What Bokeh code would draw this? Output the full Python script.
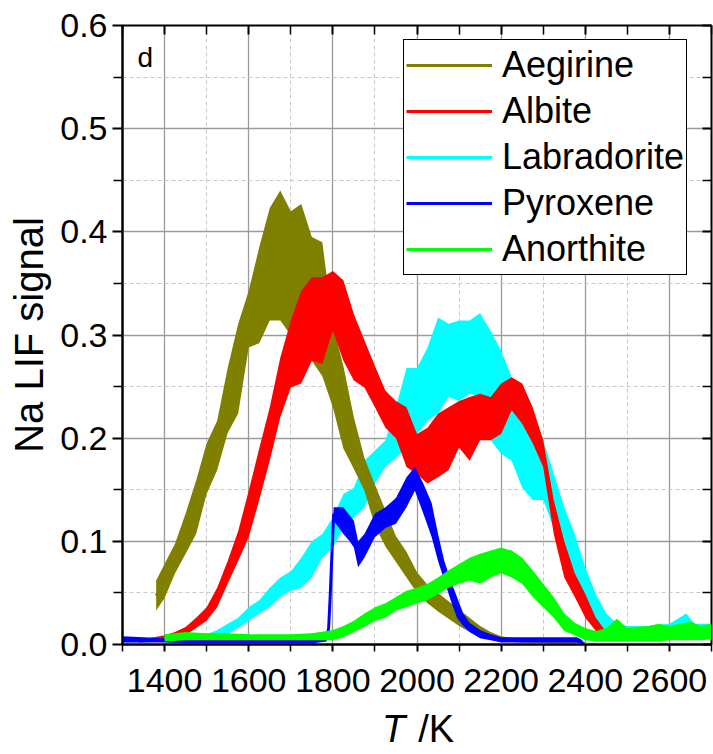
import numpy as np
from bokeh.plotting import figure
from bokeh.layouts import column
from bokeh.core.properties import value
from bokeh.models import (Range1d, LinearAxis, FixedTicker, PrintfTickFormatter,
                          Legend, LegendItem, Label, CustomJSTickFormatter)
from bokeh.embed import file_html
from bokeh.resources import INLINE

# ---------------- data (noisy band = lower/upper envelope) -------------
aeg_T  = [1380, 1400, 1425, 1450, 1475, 1500, 1525, 1550, 1575, 1600, 1625, 1650, 1675, 1700, 1725,
          1750, 1775, 1800, 1825, 1850, 1875, 1900, 1925, 1950, 1975, 2000, 2025, 2050, 2075, 2100,
          2125, 2150, 2175, 2200, 2250, 2300, 2350, 2400]
aeg_lo = [0.033, 0.045, 0.069, 0.088, 0.107, 0.146, 0.169, 0.205, 0.224, 0.288, 0.292, 0.314, 0.314,
          0.300, 0.275, 0.275, 0.260, 0.230, 0.190, 0.170, 0.149, 0.115, 0.095, 0.080, 0.065, 0.050,
          0.040, 0.032, 0.025, 0.018, 0.012, 0.008, 0.005, 0.003, 0.002, 0.002, 0.001, 0.000]
aeg_hi = [0.062, 0.078, 0.098, 0.127, 0.159, 0.195, 0.217, 0.268, 0.311, 0.343, 0.385, 0.423, 0.440,
          0.420, 0.427, 0.395, 0.390, 0.310, 0.270, 0.220, 0.181, 0.155, 0.130, 0.105, 0.090, 0.070,
          0.058, 0.050, 0.042, 0.034, 0.026, 0.018, 0.012, 0.008, 0.005, 0.004, 0.003, 0.002]

alb_T  = [1340, 1375, 1400, 1425, 1450, 1475, 1500, 1525, 1550, 1575, 1600, 1625, 1650, 1675, 1700,
          1725, 1750, 1775, 1800, 1825, 1850, 1875, 1900, 1925, 1950, 1975, 2000, 2025, 2050, 2075,
          2100, 2125, 2150, 2175, 2200, 2225, 2250, 2275, 2300, 2325, 2350, 2375, 2400, 2425, 2450]
alb_lo = [0.002, 0.003, 0.004, 0.007, 0.009, 0.016, 0.023, 0.036, 0.059, 0.081, 0.104, 0.140, 0.178,
          0.220, 0.249, 0.253, 0.275, 0.272, 0.304, 0.275, 0.256, 0.249, 0.230, 0.210, 0.200, 0.172,
          0.165, 0.156, 0.162, 0.169, 0.191, 0.178, 0.198, 0.198, 0.204, 0.227, 0.214, 0.195, 0.172,
          0.107, 0.065, 0.046, 0.026, 0.013, 0.003]
alb_hi = [0.005, 0.007, 0.009, 0.012, 0.017, 0.026, 0.036, 0.055, 0.081, 0.110, 0.149, 0.190, 0.230,
          0.278, 0.314, 0.343, 0.356, 0.356, 0.362, 0.353, 0.320, 0.295, 0.270, 0.246, 0.236, 0.230,
          0.204, 0.210, 0.224, 0.230, 0.236, 0.240, 0.243, 0.240, 0.253, 0.259, 0.253, 0.230, 0.198,
          0.140, 0.100, 0.069, 0.049, 0.026, 0.012]

lab_T  = [1300, 1350, 1400, 1450, 1500, 1525, 1550, 1575, 1600, 1625, 1650, 1675, 1700, 1725, 1750,
          1775, 1800, 1825, 1850, 1875, 1900, 1925, 1950, 1975, 2000, 2025, 2050, 2075, 2100, 2125,
          2150, 2175, 2200, 2225, 2250, 2275, 2300, 2325, 2350, 2375, 2400, 2425, 2450, 2475, 2500,
          2550, 2600, 2640, 2660, 2700]
lab_lo = [0.002, 0.002, 0.003, 0.004, 0.005, 0.007, 0.010, 0.016, 0.023, 0.030, 0.036, 0.046, 0.052,
          0.055, 0.065, 0.084, 0.094, 0.113, 0.123, 0.133, 0.156, 0.172, 0.181, 0.191, 0.204, 0.217,
          0.224, 0.240, 0.236, 0.243, 0.240, 0.198, 0.185, 0.178, 0.152, 0.140, 0.140, 0.113, 0.094,
          0.069, 0.043, 0.023, 0.011, 0.006, 0.005, 0.005, 0.005, 0.006, 0.005, 0.005]
lab_hi = [0.006, 0.006, 0.007, 0.010, 0.010, 0.014, 0.020, 0.026, 0.036, 0.043, 0.055, 0.065, 0.071,
          0.084, 0.100, 0.107, 0.123, 0.146, 0.152, 0.178, 0.188, 0.198, 0.230, 0.268, 0.268, 0.288,
          0.317, 0.311, 0.314, 0.314, 0.321, 0.304, 0.285, 0.259, 0.243, 0.227, 0.198, 0.166, 0.133,
          0.107, 0.075, 0.049, 0.030, 0.020, 0.018, 0.018, 0.020, 0.030, 0.020, 0.020]

pyr_T  = [1300, 1350, 1400, 1450, 1500, 1550, 1600, 1650, 1700, 1750, 1785, 1790, 1794, 1798, 1802,
          1825, 1840, 1850, 1860, 1875, 1900, 1925, 1950, 1975, 1995, 2015, 2035, 2050, 2065, 2080,
          2095, 2110, 2125, 2150, 2175, 2200, 2250, 2300, 2350, 2380, 2390, 2395]
pyr_lo = [0.002, 0.002, 0.002, 0.001, 0.001, 0.001, 0.001, 0.001, 0.001, 0.001, 0.003, 0.012, 0.045,
          0.085, 0.120, 0.107, 0.100, 0.094, 0.075, 0.084, 0.104, 0.113, 0.117, 0.133, 0.149, 0.127,
          0.104, 0.081, 0.062, 0.043, 0.026, 0.018, 0.012, 0.006, 0.004, 0.002, 0.002, 0.002, 0.002,
          0.002, 0.001, 0.000]
pyr_hi = [0.008, 0.007, 0.006, 0.005, 0.005, 0.005, 0.005, 0.005, 0.005, 0.005, 0.008, 0.020, 0.055,
          0.095, 0.133, 0.133, 0.125, 0.120, 0.100, 0.107, 0.127, 0.133, 0.142, 0.162, 0.172, 0.156,
          0.137, 0.107, 0.081, 0.062, 0.046, 0.030, 0.021, 0.014, 0.010, 0.007, 0.007, 0.007, 0.007,
          0.007, 0.005, 0.001]

ano_T  = [1400, 1450, 1500, 1550, 1600, 1650, 1700, 1750, 1800, 1825, 1850, 1875, 1900, 1925, 1950,
          1975, 2000, 2025, 2050, 2075, 2100, 2125, 2150, 2175, 2200, 2225, 2250, 2275, 2300, 2325,
          2350, 2375, 2400, 2425, 2450, 2475, 2500, 2525, 2550, 2575, 2600, 2625, 2650, 2675, 2700]
ano_lo = [0.003, 0.004, 0.004, 0.004, 0.004, 0.004, 0.004, 0.004, 0.004, 0.007, 0.012, 0.017, 0.023,
          0.026, 0.033, 0.036, 0.040, 0.043, 0.049, 0.055, 0.059, 0.062, 0.059, 0.065, 0.069, 0.065,
          0.059, 0.046, 0.036, 0.026, 0.013, 0.009, 0.004, 0.003, 0.003, 0.003, 0.003, 0.003, 0.003,
          0.003, 0.004, 0.004, 0.004, 0.004, 0.005]
ano_hi = [0.010, 0.012, 0.011, 0.011, 0.010, 0.010, 0.010, 0.011, 0.014, 0.018, 0.023, 0.030, 0.036,
          0.040, 0.046, 0.052, 0.055, 0.059, 0.065, 0.072, 0.078, 0.084, 0.088, 0.091, 0.094, 0.091,
          0.084, 0.072, 0.059, 0.046, 0.030, 0.021, 0.016, 0.013, 0.016, 0.025, 0.016, 0.017, 0.018,
          0.020, 0.018, 0.020, 0.022, 0.018, 0.020]

series_names = ["Aegirine", "Albite", "Labradorite", "Pyroxene", "Anorthite"]
series_colors = ["#808000", "#FF0000", "#00FFFF", "#0000FF", "#00FF00"]
series_data = [(aeg_T, aeg_lo, aeg_hi), (alb_T, alb_lo, alb_hi), (lab_T, lab_lo, lab_hi),
               (pyr_T, pyr_lo, pyr_hi), (ano_T, ano_lo, ano_hi)]

x_major_ticks = [1400, 1600, 1800, 2000, 2200, 2400, 2600]
x_minor_ticks = [1300, 1500, 1700, 1900, 2100, 2300, 2500, 2700]
y_major_ticks = [0.0, 0.1, 0.2, 0.3, 0.4, 0.5, 0.6]
y_minor_ticks = [0.05, 0.15, 0.25, 0.35, 0.45, 0.55]

x_label_parts = ["T", "/K"]

FONT = "Liberation Sans"
X0, X1 = 1300, 2700
P_H = 707
Q_H = 754 - P_H

p = figure(width=713, height=P_H, x_range=Range1d(X0, X1), y_range=Range1d(0, 0.6),
           output_backend="svg", toolbar_location=None,
           min_border_left=122, min_border_right=2, min_border_top=25,
           min_border_bottom=P_H - 644)
p.background_fill_color = "white"
p.border_fill_color = "white"
p.outline_line_color = "black"
p.outline_line_width = 2

xt = FixedTicker(ticks=x_major_ticks, minor_ticks=x_minor_ticks)
yt = FixedTicker(ticks=y_major_ticks, minor_ticks=y_minor_ticks)
p.xaxis.ticker = xt
p.yaxis.ticker = yt
p.yaxis.formatter = PrintfTickFormatter(format="%.1f")

for g in (p.xgrid, p.ygrid):
    g.grid_line_color = "#9a9a9a"
    g.grid_line_width = 1.3
    g.minor_grid_line_color = "#c8c8c8"
    g.minor_grid_line_dash = "4 3"
    g.minor_grid_line_width = 1
p.xgrid.ticker = xt
p.ygrid.ticker = yt

for ax in (p.xaxis, p.yaxis):
    ax.axis_line_color = "black"
    ax.axis_line_width = 2
    ax.major_tick_line_color = "black"
    ax.minor_tick_line_color = "black"
    ax.major_tick_line_width = 2
    ax.minor_tick_line_width = 1.5
    ax.major_tick_in = 0
    ax.minor_tick_in = 0
    ax.major_label_text_font = FONT
    ax.major_label_text_font_size = "34px"
    ax.major_label_text_color = "black"

p.xaxis.major_tick_out = 7
p.xaxis.minor_tick_out = 7
p.xaxis.major_label_standoff = 17
p.yaxis.major_tick_out = 10
p.yaxis.minor_tick_out = 9
p.yaxis.major_label_standoff = 5
p.yaxis.axis_label = "Na LIF signal"
p.yaxis.axis_label_text_font = FONT
p.yaxis.axis_label_text_font_size = "40px"
p.yaxis.axis_label_text_font_style = "normal"
p.yaxis.axis_label_text_color = "black"
p.yaxis.axis_label_standoff = 6

blank = CustomJSTickFormatter(code="return ''")
top_ax = LinearAxis(ticker=xt, formatter=blank, major_label_text_font_size="0px",
                    major_label_standoff=0, major_tick_in=9, major_tick_out=0,
                    minor_tick_in=9, minor_tick_out=0, axis_line_color="black",
                    major_tick_line_width=2, minor_tick_line_width=1.5)
right_ax = LinearAxis(ticker=yt, formatter=blank, major_label_text_font_size="0px",
                      major_label_standoff=0, major_tick_in=9, major_tick_out=0,
                      minor_tick_in=9, minor_tick_out=0, axis_line_color="black",
                      major_tick_line_width=2, minor_tick_line_width=1.5)
p.add_layout(top_ax, "above")
p.add_layout(right_ax, "right")

# drawing order: cyan, olive, red, blue, green
draw_order = [2, 0, 1, 3, 4]
line_renderers = {}
for i in draw_order:
    T, lo, hi = series_data[i]
    T = np.array(T, dtype=float)
    lo = np.array(lo)
    hi = np.array(hi)
    p.varea(x=T, y1=lo, y2=hi, fill_color=series_colors[i], fill_alpha=1.0)
    line_renderers[i] = p.line(x=T, y=(lo + hi) / 2, line_color=series_colors[i], line_width=3)

legend = Legend(items=[LegendItem(label=series_names[i], renderers=[line_renderers[i]])
                       for i in range(5)],
                location=(281, 369), orientation="vertical",
                border_line_color="black", border_line_width=1.5, border_line_alpha=1,
                background_fill_color="white", background_fill_alpha=1,
                padding=2, spacing=0, margin=0,
                glyph_width=86, glyph_height=46, label_height=46, label_standoff=10,
                label_text_font=FONT, label_text_font_size="36px", label_text_color="black")
p.add_layout(legend, "center")

p.add_layout(Label(x=15, y=572, x_units="screen", y_units="screen", text="d",
                   text_font=FONT, text_font_size="28px", text_color="black"))

# x-axis title strip (italic T, upright /K) below the plot; same borders as p so frames align
q = figure(width=713, height=Q_H, x_range=Range1d(X0, X1), y_range=Range1d(0, 1),
           output_backend="svg", toolbar_location=None, x_axis_type=None, y_axis_type=None,
           title=None, min_border_left=122, min_border_right=2, min_border_top=0,
           min_border_bottom=0)
q.outline_line_color = None
q.xgrid.visible = False
q.ygrid.visible = False
q.background_fill_color = "white"
q.border_fill_color = "white"
q.text(x=[1917], y=[1], text=[x_label_parts[0]], text_font=value(FONT), text_font_size="38px",
       text_font_style="italic", text_color="black", text_baseline="top", text_align="left")
q.text(x=[2003], y=[1], text=[x_label_parts[1]], text_font=value(FONT), text_font_size="38px",
       text_color="black", text_baseline="top", text_align="left")

layout = column(p, q, spacing=0)
open("out.html", "w").write(file_html(layout, INLINE))
